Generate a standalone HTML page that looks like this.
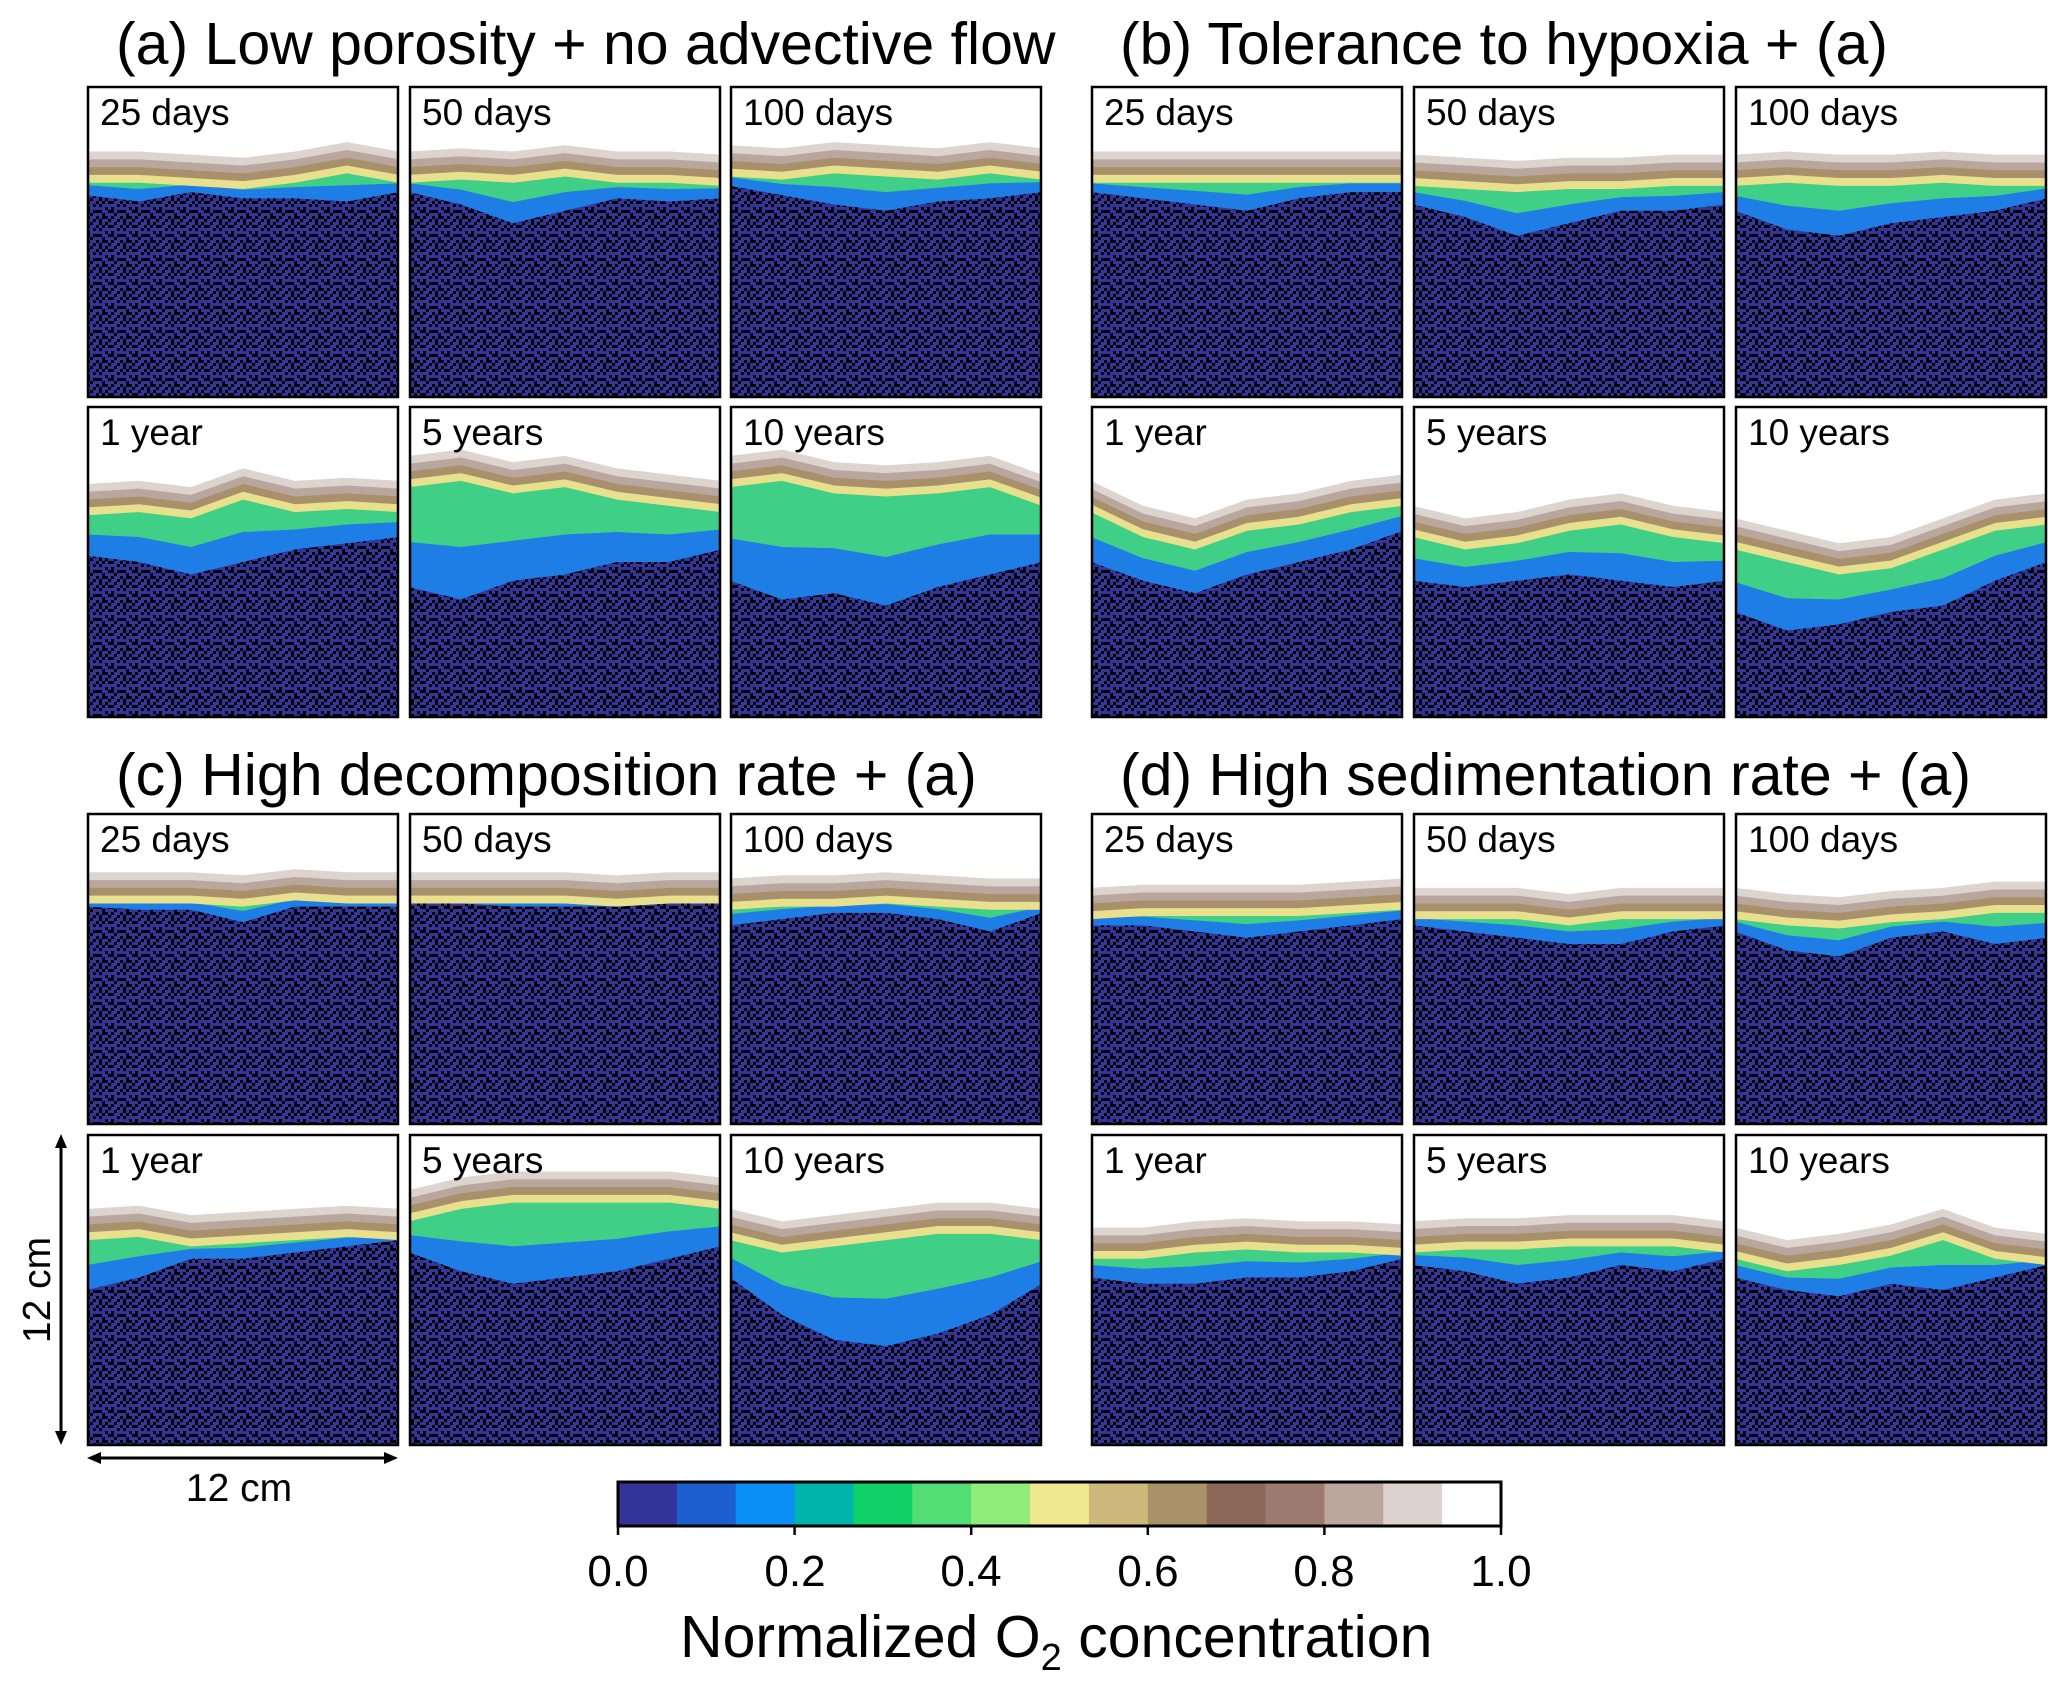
<!DOCTYPE html>
<html><head><meta charset="utf-8">
<style>
body{margin:0;background:#fff;}
#root{position:relative;width:2067px;height:1692px;overflow:hidden;font-family:"Liberation Sans",sans-serif;}
.title{position:absolute;font-size:59px;color:#000;white-space:nowrap;line-height:1;}
.tick{position:absolute;font-size:44px;transform:translateX(-50%);line-height:1;}
</style></head>
<body>
<div id="root">
<div class="title" style="left:116px;top:15px">(a) Low porosity + no advective flow</div>
<div class="title" style="left:1120px;top:15px">(b) Tolerance to hypoxia + (a)</div>
<div class="title" style="left:116px;top:746px">(c) High decomposition rate + (a)</div>
<div class="title" style="left:1120px;top:746px">(d) High sedimentation rate + (a)</div>
<svg id="panels" width="2067" height="1692" style="position:absolute;left:0;top:0">
<defs>
<pattern id="speck" width="24" height="24" patternUnits="userSpaceOnUse">
<rect width="24" height="24" fill="#33359b"/>
<g fill="#000">
<rect x="0" y="0" width="3" height="3"/><rect x="6" y="0" width="6" height="3"/><rect x="15" y="0" width="3" height="3"/><rect x="21" y="3" width="3" height="3"/>
<rect x="3" y="3" width="3" height="6"/><rect x="12" y="3" width="3" height="3"/><rect x="18" y="6" width="3" height="3"/><rect x="9" y="6" width="3" height="3"/>
<rect x="0" y="9" width="3" height="3"/><rect x="6" y="9" width="3" height="3"/><rect x="12" y="9" width="6" height="3"/><rect x="21" y="12" width="3" height="3"/>
<rect x="3" y="12" width="3" height="3"/><rect x="9" y="15" width="3" height="3"/><rect x="15" y="15" width="3" height="6"/><rect x="0" y="18" width="6" height="3"/>
<rect x="12" y="18" width="3" height="3"/><rect x="21" y="18" width="3" height="3"/><rect x="6" y="21" width="3" height="3"/><rect x="18" y="21" width="3" height="3"/>
</g></pattern>
</defs>
</svg>
<svg width="2067" height="1692" style="position:absolute;left:0;top:0">
<g stroke="#000" stroke-width="3" fill="#000">
<line x1="61" y1="1142" x2="61" y2="1437"/>
<polygon points="61,1134 55,1148 67,1148" stroke="none"/>
<polygon points="61,1445 55,1431 67,1431" stroke="none"/>
<line x1="95" y1="1458" x2="390" y2="1458"/>
<polygon points="87,1458 101,1452 101,1464" stroke="none"/>
<polygon points="398,1458 384,1452 384,1464" stroke="none"/>
</g>
<text x="239" y="1501" font-size="39" text-anchor="middle" font-family="Liberation Sans">12 cm</text>
<text x="0" y="0" font-size="39" text-anchor="middle" font-family="Liberation Sans" transform="translate(50,1290) rotate(-90)">12 cm</text>
</svg>
<svg id="cbar" width="2067" height="1692" style="position:absolute;left:0;top:0"></svg>
<div class="tick" style="left:618px;top:1550px">0.0</div>
<div class="tick" style="left:795px;top:1550px">0.2</div>
<div class="tick" style="left:971px;top:1550px">0.4</div>
<div class="tick" style="left:1148px;top:1550px">0.6</div>
<div class="tick" style="left:1324px;top:1550px">0.8</div>
<div class="tick" style="left:1501px;top:1550px">1.0</div>
<div class="title" style="left:680px;top:1608px;font-size:59px">Normalized O<sub style="font-size:38px">2</sub> concentration</div>
</div>
<script>
const labels = ["25 days","50 days","100 days","1 year","5 years","10 years"];
// surface depth (fraction of panel height) at 7 points across each panel, groups a,b,c,d
const surfA = [[0.27,0.27,0.28,0.29,0.27,0.24,0.27],[0.27,0.26,0.27,0.25,0.27,0.27,0.28],[0.25,0.26,0.24,0.25,0.26,0.24,0.26],
               [0.31,0.30,0.32,0.26,0.30,0.29,0.30],[0.22,0.20,0.24,0.22,0.26,0.28,0.30],[0.22,0.20,0.24,0.25,0.24,0.22,0.28]];
const surfB = [[0.27,0.27,0.27,0.27,0.27,0.27,0.27],[0.28,0.29,0.30,0.29,0.29,0.28,0.28],[0.28,0.27,0.28,0.28,0.27,0.28,0.28],
               [0.30,0.38,0.42,0.36,0.34,0.30,0.28],[0.38,0.42,0.40,0.36,0.34,0.38,0.40],[0.42,0.46,0.50,0.48,0.42,0.36,0.34]];
const surfC = [[0.25,0.25,0.25,0.26,0.24,0.25,0.25],[0.25,0.25,0.25,0.25,0.26,0.25,0.25],[0.27,0.26,0.26,0.25,0.26,0.27,0.27],
               [0.30,0.29,0.32,0.31,0.30,0.29,0.30],[0.24,0.20,0.18,0.18,0.18,0.18,0.20],[0.30,0.34,0.32,0.30,0.28,0.28,0.30]];
const surfD = [[0.30,0.29,0.29,0.29,0.29,0.28,0.27],[0.30,0.30,0.30,0.32,0.30,0.30,0.30],[0.30,0.32,0.33,0.31,0.30,0.28,0.28],
               [0.36,0.36,0.34,0.33,0.34,0.34,0.35],[0.34,0.33,0.33,0.32,0.32,0.32,0.34],[0.36,0.40,0.38,0.35,0.30,0.36,0.38]];
// oxic (coloured) zone depth
const oxA = [[0.35,0.37,0.34,0.36,0.36,0.37,0.34],[0.34,0.38,0.44,0.40,0.36,0.37,0.36],[0.32,0.35,0.38,0.40,0.37,0.36,0.34],
             [0.48,0.50,0.54,0.50,0.46,0.44,0.42],[0.58,0.62,0.56,0.54,0.50,0.50,0.46],[0.56,0.62,0.60,0.64,0.58,0.54,0.50]];
const oxB = [[0.34,0.36,0.38,0.40,0.36,0.34,0.34],[0.38,0.42,0.48,0.44,0.40,0.40,0.38],[0.40,0.46,0.48,0.44,0.42,0.40,0.36],
             [0.50,0.56,0.60,0.54,0.50,0.46,0.40],[0.56,0.58,0.56,0.54,0.56,0.58,0.56],[0.66,0.72,0.70,0.66,0.64,0.56,0.50]];
const oxC = [[0.30,0.31,0.31,0.35,0.30,0.30,0.30],[0.29,0.29,0.30,0.30,0.30,0.29,0.29],[0.36,0.34,0.32,0.32,0.34,0.38,0.32],
             [0.50,0.46,0.40,0.40,0.38,0.36,0.34],[0.38,0.44,0.48,0.46,0.44,0.40,0.36],[0.46,0.58,0.66,0.68,0.64,0.58,0.48]];
const oxD = [[0.36,0.36,0.38,0.40,0.38,0.36,0.34],[0.36,0.38,0.40,0.42,0.42,0.38,0.36],[0.38,0.44,0.46,0.40,0.38,0.42,0.40],
             [0.46,0.48,0.48,0.46,0.46,0.44,0.40],[0.42,0.44,0.48,0.46,0.42,0.44,0.40],[0.46,0.50,0.52,0.48,0.50,0.46,0.42]];
const cbarColors = ["#33339a","#1e5fcf","#0a8ff5","#00b3ad","#10d168","#52de74","#92ec7a","#f0e890","#cdb97c","#aa9168","#8b6857","#9c7a6f","#bca79f","#ddd2ce","#ffffff"];
const cbarTicks = [0,0.2,0.4,0.6,0.8,1.0];

const NS="http://www.w3.org/2000/svg";
const svg=document.getElementById('panels');
const colX=[[87,409,730],[1091,1413,1735]];
const rowY=[[86,406],[813,1134]];
const P=312;
function el(t,a){const e=document.createElementNS(NS,t);for(const k in a)e.setAttribute(k,a[k]);return e;}
function poly(x0,y0,arr,off){
  const n=arr.length;let pts=[x0+','+y0];
  for(let i=0;i<n;i++){pts.push((x0+i*P/(n-1))+','+(y0+Math.max(0,Math.min(1,arr[i]+off))*P));}
  pts.push((x0+P)+','+y0);return pts.join(' ');
}
const groups=[[surfA,oxA,'a'],[surfB,oxB,'b'],[surfC,oxC,'c'],[surfD,oxD,'d']];
groups.forEach((g,gi)=>{
  const gx=colX[gi%2], gy=rowY[Math.floor(gi/2)];
  for(let k=0;k<6;k++){
    const x=gx[k%3], y=gy[Math.floor(k/3)];
    const s=g[0][k], o=g[1][k];
    const grp=el('g',{});
    
    
    const clip=el('clipPath',{id:'c'+gi+'_'+k});clip.appendChild(el('rect',{x:x,y:y,width:P,height:P}));grp.appendChild(clip);
    const inner=el('g',{'clip-path':'url(#c'+gi+'_'+k+')'});
    inner.appendChild(el('rect',{x:x,y:y,width:P,height:P,fill:'url(#speck)'}));
    const od=o.map((v,i)=>v-s[i]);
    const comb=s.map((v,i)=>v+od[i]);
    inner.appendChild(el('polygon',{points:poly(x,y,comb,0),fill:'#1f7de6'}));
    inner.appendChild(el('polygon',{points:poly(x,y,s.map((v,i)=>v+od[i]*0.6),0),fill:'#3fcf86'}));
    inner.appendChild(el('polygon',{points:poly(x,y,s,0.04),fill:'#e8e08c'}));
    inner.appendChild(el('polygon',{points:poly(x,y,s,0.015),fill:'#a8906c'}));
    inner.appendChild(el('polygon',{points:poly(x,y,s,-0.01),fill:'#b9a79e'}));
    inner.appendChild(el('polygon',{points:poly(x,y,s,-0.035),fill:'#ddd3cf'}));
    inner.appendChild(el('polygon',{points:poly(x,y,s,-0.06),fill:'#ffffff'}));
    grp.appendChild(inner);
    grp.appendChild(el('rect',{x:x+1,y:y+1,width:P-2,height:P-2,fill:'none',stroke:'#000','stroke-width':2.5}));
    const t=el('text',{x:x+13,y:y+39,'font-size':37,'font-family':'Liberation Sans'});t.textContent=labels[k];
    
    
    grp.appendChild(t);
    svg.appendChild(grp);
  }
});
const cb=document.getElementById('cbar');
const cx0=618,cx1=1501,cy=1482,ch=44;
const cw=(cx1-cx0)/cbarColors.length;
cbarColors.forEach((c,i)=>{
  const r=el('rect',{x:cx0+i*cw,y:cy,width:cw+0.5,height:ch,fill:c});
  
  
  cb.appendChild(r);
});
cb.appendChild(el('rect',{x:cx0,y:cy,width:cx1-cx0,height:ch,fill:'none',stroke:'#000','stroke-width':3}));
cbarTicks.forEach(v=>{
  const xx=cx0+v*(cx1-cx0);
  const l=el('line',{x1:xx,x2:xx,y1:cy+ch,y2:cy+ch+9,stroke:'#000','stroke-width':2.5});
  
  
  cb.appendChild(l);
});
</script>
</body></html>
